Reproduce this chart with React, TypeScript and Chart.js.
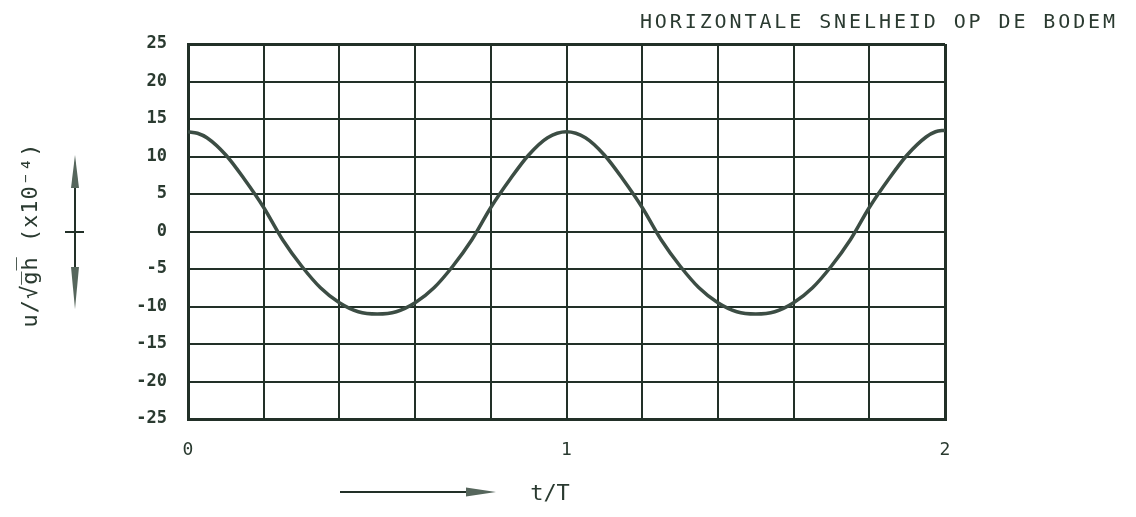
import { useEffect, useRef } from 'react';
import { Chart, registerables } from 'chart.js';

Chart.register(...registerables);

const TITLE = 'HORIZONTALE SNELHEID OP DE BODEM';
const Y_TITLE = 'u/√g̅h̅ (x10⁻⁴)';
const X_TITLE = 't/T';

// t/T positions
const tValues = [
  0, 0.025, 0.05, 0.1, 0.15, 0.2, 0.25, 0.3, 0.35, 0.4, 0.45, 0.5,
  0.55, 0.6, 0.65, 0.7, 0.75, 0.8, 0.85, 0.9, 0.95, 1.0,
  1.05, 1.1, 1.15, 1.2, 1.25, 1.3, 1.35, 1.4, 1.45, 1.5,
  1.55, 1.6, 1.65, 1.7, 1.75, 1.8, 1.85, 1.9, 1.95, 1.975, 2.0,
];
// u/sqrt(gh) (x10^-4)
const uValues = [
  13.3, 13.1, 12.5, 10.2, 6.9, 3.2, -1.1, -4.6, -7.5, -9.5, -10.7, -11.0,
  -10.7, -9.5, -7.5, -4.6, -1.1, 3.2, 6.9, 10.2, 12.5, 13.3,
  12.5, 10.2, 6.9, 3.2, -1.1, -4.6, -7.5, -9.5, -10.7, -11.0,
  -10.7, -9.5, -7.5, -4.6, -1.1, 3.2, 6.9, 10.2, 12.6, 13.3, 13.5,
];
const yRange = [-25, 25];
const yStep = 5;
const xRange = [0, 2];
const xStep = 0.2;
const xLabelValues = [0, 1, 2];

const GRID = '#223028';
const CURVE = '#3c4d44';
const TEXT = '#2a3a30';
const ARROW = '#56665c';

const decorations = {
  id: 'decorations',
  afterDraw(chart: any) {
    const ctx: CanvasRenderingContext2D = chart.ctx;
    ctx.save();
    // main title
    ctx.fillStyle = TEXT;
    ctx.font = '20px "DejaVu Sans Mono"';
    ctx.textAlign = 'right';
    ctx.textBaseline = 'alphabetic';
    (ctx as any).letterSpacing = '2.9px';
    ctx.fillText(TITLE, 1118, 28);
    (ctx as any).letterSpacing = '1px';

    // y title
    ctx.save();
    ctx.translate(37, 235);
    ctx.rotate(-Math.PI / 2);
    ctx.textAlign = 'center';
    ctx.font = '22px "DejaVu Sans Mono"';
    ctx.fillText(Y_TITLE, 0, 0);
    ctx.restore();
    (ctx as any).letterSpacing = '0px';

    // x title
    ctx.textAlign = 'center';
    ctx.font = '22px "DejaVu Sans Mono"';
    ctx.fillText(X_TITLE, 550, 500);

    // vertical double arrow
    ctx.strokeStyle = GRID;
    ctx.fillStyle = ARROW;
    ctx.lineWidth = 2;
    ctx.beginPath();
    ctx.moveTo(75, 170);
    ctx.lineTo(75, 295);
    ctx.moveTo(65, 232);
    ctx.lineTo(84, 232);
    ctx.stroke();
    ctx.beginPath();
    ctx.moveTo(75, 155);
    ctx.lineTo(79, 188);
    ctx.lineTo(71, 188);
    ctx.closePath();
    ctx.fill();
    ctx.beginPath();
    ctx.moveTo(75, 309);
    ctx.lineTo(79, 267);
    ctx.lineTo(71, 267);
    ctx.closePath();
    ctx.fill();

    // horizontal arrow
    ctx.beginPath();
    ctx.moveTo(340, 492);
    ctx.lineTo(475, 492);
    ctx.stroke();
    ctx.beginPath();
    ctx.moveTo(496, 492);
    ctx.lineTo(466, 487.5);
    ctx.lineTo(466, 496.5);
    ctx.closePath();
    ctx.fill();
    ctx.restore();
  },
};

export default function App() {
  const ref = useRef<HTMLCanvasElement | null>(null);

  useEffect(() => {
    if (!ref.current) return;
    const chart = new Chart(ref.current, {
      type: 'line',
      data: {
        datasets: [
          {
            data: tValues.map((t, i) => ({ x: t, y: uValues[i] })),
            borderColor: CURVE,
            borderWidth: 3.5,
            pointRadius: 0,
            cubicInterpolationMode: 'monotone',
            fill: false,
          },
        ],
      },
      options: {
        responsive: false,
        animation: false,
        layout: { padding: { top: 44, right: 191, bottom: 0, left: 0 } },
        plugins: {
          legend: { display: false },
          tooltip: { enabled: false },
          title: { display: false },
        },
        scales: {
          x: {
            type: 'linear',
            min: xRange[0],
            max: xRange[1],
            ticks: {
              stepSize: xStep,
              autoSkip: false,
              maxRotation: 0,
              padding: 21,
              color: TEXT,
              font: { family: '"DejaVu Sans Mono"', size: 18 },
              callback: (v: any) => {
                const n = Number(v);
                const hit = xLabelValues.find((l) => Math.abs(l - n) < 1e-6);
                return hit === undefined ? '' : String(hit);
              },
            },
            grid: {
              color: GRID,
              drawTicks: false,
              lineWidth: (c: any) =>
                c.tick && (Math.abs(c.tick.value - xRange[0]) < 1e-6 || Math.abs(c.tick.value - xRange[1]) < 1e-6) ? 3 : 2,
            },
            border: { color: GRID, width: 3 },
            afterFit: (s: any) => {
              s.height = 98;
            },
          },
          y: {
            type: 'linear',
            min: yRange[0],
            max: yRange[1],
            ticks: {
              stepSize: yStep,
              padding: 21,
              color: TEXT,
              font: { family: '"DejaVu Sans Mono"', size: 17, weight: 'bold' },
            },
            grid: {
              color: GRID,
              drawTicks: false,
              lineWidth: (c: any) =>
                c.tick && (c.tick.value === yRange[0] || c.tick.value === yRange[1]) ? 3 : 2,
            },
            border: { color: GRID, width: 3 },
            afterFit: (s: any) => {
              s.width = 188;
            },
          },
        },
      },
      plugins: [decorations],
    });
    return () => chart.destroy();
  }, []);

  return (
    <div style={{ position: 'fixed', left: 0, top: 0, width: 1136, height: 517, background: '#fff' }}>
      <canvas ref={ref} width={1136} height={517} style={{ display: 'block' }} />
    </div>
  );
}
